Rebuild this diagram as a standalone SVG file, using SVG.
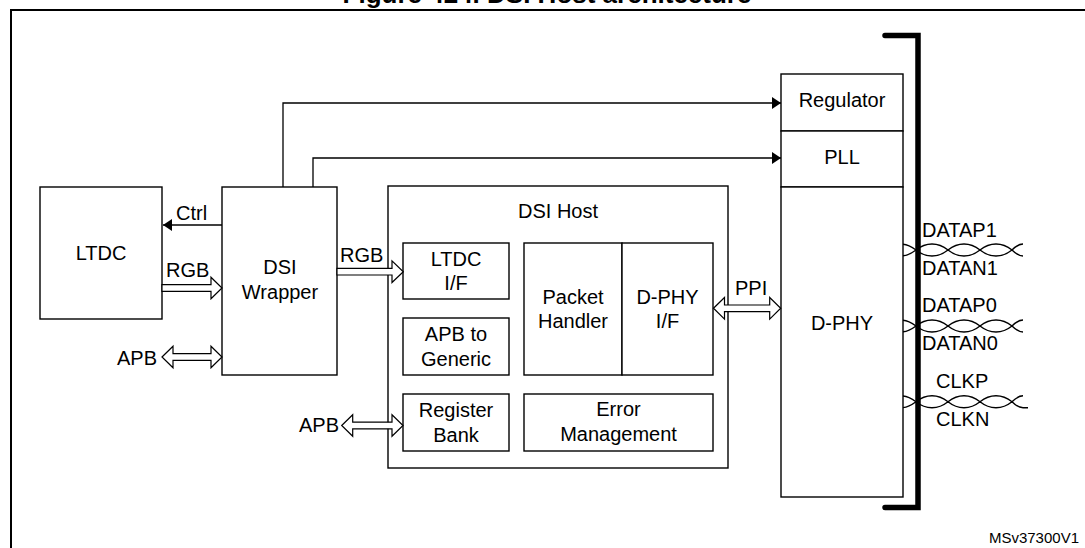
<svg xmlns="http://www.w3.org/2000/svg" width="1085" height="548" viewBox="0 0 1085 548">
<defs>
<style>
text{font-family:"Liberation Sans",Arial,sans-serif;font-size:20px;fill:#000}
.c{text-anchor:middle}
.box{fill:#fff;stroke:#000;stroke-width:1.4}
.ln{fill:none;stroke:#000;stroke-width:1.3}
.ha{fill:#fff;stroke:#000;stroke-width:1.2;stroke-linejoin:miter}
.tw{fill:none;stroke:#000;stroke-width:1.4}
</style>
<marker id="ah" markerUnits="userSpaceOnUse" markerWidth="10" markerHeight="12" refX="9" refY="6" orient="auto">
<path d="M0,0 L9,6 L0,12 Z" fill="#000"/>
</marker>
</defs>
<rect width="1085" height="548" fill="#fff"/>
<text x="547" y="3" class="c" style="font-weight:bold;font-size:26px">Figure 424. DSI Host architecture</text>
<path d="M11,548 V10 H1085" fill="none" stroke="#000" stroke-width="2"/>

<g id="ltdc"><rect class="box" x="40" y="187" width="122" height="132"/><text x="101" y="260" class="c">LTDC</text></g>
<g id="dsi-wrapper"><rect class="box" x="222" y="187" width="115" height="188"/><text x="280" y="274" class="c">DSI</text><text x="280" y="299" class="c">Wrapper</text></g>
<g id="dsi-host"><rect class="box" x="388" y="186" width="340" height="282"/><text x="558" y="218" class="c">DSI Host</text></g>
<g id="ltdc-if"><rect class="box" x="403" y="243" width="106" height="56"/><text x="456" y="266" class="c">LTDC</text><text x="456" y="290" class="c">I/F</text></g>
<g id="apb-generic"><rect class="box" x="403" y="318" width="106" height="57"/><text x="456" y="341" class="c">APB to</text><text x="456" y="366" class="c">Generic</text></g>
<g id="register-bank"><rect class="box" x="403" y="394" width="106" height="57"/><text x="456" y="417" class="c">Register</text><text x="456" y="442" class="c">Bank</text></g>
<g id="packet-handler"><rect class="box" x="524" y="243" width="98" height="132"/><text x="573" y="304" class="c">Packet</text><text x="573" y="328" class="c">Handler</text></g>
<g id="dphy-if"><rect class="box" x="622" y="243" width="91" height="132"/><text x="667.5" y="304" class="c">D-PHY</text><text x="667.5" y="328" class="c">I/F</text></g>
<g id="error-mgmt"><rect class="box" x="524" y="394" width="189" height="57"/><text x="618.5" y="416" class="c">Error</text><text x="618.5" y="441" class="c">Management</text></g>
<g id="regulator"><rect class="box" x="781" y="74" width="122" height="57"/><text x="842" y="107" class="c">Regulator</text></g>
<g id="pll"><rect class="box" x="781" y="131" width="122" height="56"/><text x="842" y="164" class="c">PLL</text></g>
<g id="dphy"><rect class="box" x="781" y="187" width="122" height="310"/><text x="842" y="330" class="c">D-PHY</text></g>

<g id="connectors">
<path class="ln" d="M222,225 H163" marker-end="url(#ah)"/>
<path class="ln" d="M283,187 V103 H781" marker-end="url(#ah)"/>
<path class="ln" d="M313,187 V158 H781" marker-end="url(#ah)"/>
<polygon class="ha" points="162,284.7 211,284.7 211,277.2 222,288 211,298.8 211,291.3 162,291.3"/>
<polygon class="ha" points="337,268.4 392,268.4 392,260.9 403.3,271.7 392,282.5 392,275 337,275"/>
<polygon class="ha" points="162,357 173,346.2 173,353.7 211,353.7 211,346.2 222,357 211,367.8 211,360.3 173,360.3 173,367.8"/>
<polygon class="ha" points="341.7,425.5 352.7,414.7 352.7,422.2 392,422.2 392,414.7 403,425.5 392,436.3 392,428.8 352.7,428.8 352.7,436.3"/>
<polygon class="ha" points="713.5,308.3 724.5,297.5 724.5,305 769.7,305 769.7,297.5 780.7,308.3 769.7,319.1 769.7,311.6 724.5,311.6 724.5,319.1"/>
<g class="tw">
<path d="M903,244.2 C908,244.5 912,247 916,250 C926,242 938,242 948,250 C958,242 970,242 980,250 C990,242 1002,242 1012,250 C1016,246 1019,244 1023,244"/>
<path d="M903,255.8 C908,255.5 912,253 916,250 C926,258 938,258 948,250 C958,258 970,258 980,250 C990,258 1002,258 1012,250 C1016,254 1019,256 1023,256"/>
<path d="M903,320.2 C908,320.5 912,323 916,326 C926,318 938,318 948,326 C958,318 970,318 980,326 C990,318 1002,318 1012,326 C1016,322 1019,320 1023,320"/>
<path d="M903,331.8 C908,331.5 912,329 916,326 C926,334 938,334 948,326 C958,334 970,334 980,326 C990,334 1002,334 1012,326 C1016,330 1019,332 1023,332"/>
<path d="M903,396 C908,396.3 912,398.8 916,401.8 C926,393.8 938,393.8 948,401.8 C958,393.8 970,393.8 980,401.8 C990,393.8 1002,393.8 1012,401.8 C1016,397.8 1019,395.8 1023,395.8"/>
<path d="M903,407.6 C908,407.3 912,404.8 916,401.8 C926,409.8 938,409.8 948,401.8 C958,409.8 970,409.8 980,401.8 C990,409.8 1002,409.8 1012,401.8 C1016,405.8 1019,407.8 1023,407.8 H1028"/>
</g>
</g>
<path d="M885,35.5 H918 V507.5 H885" fill="none" stroke="#000" stroke-width="5.5" stroke-linecap="round"/>

<text x="176" y="220">Ctrl</text>
<text x="166" y="277">RGB</text>
<text x="340" y="262">RGB</text>
<text x="157" y="365" style="text-anchor:end">APB</text>
<text x="339" y="432" style="text-anchor:end">APB</text>
<text x="735" y="295">PPI</text>
<text x="922" y="237">DATAP1</text>
<text x="922" y="275">DATAN1</text>
<text x="922" y="312">DATAP0</text>
<text x="922" y="350">DATAN0</text>
<text x="936" y="388">CLKP</text>
<text x="936" y="426">CLKN</text>
<text x="1079" y="543" style="text-anchor:end;font-size:15px">MSv37300V1</text>
</svg>
